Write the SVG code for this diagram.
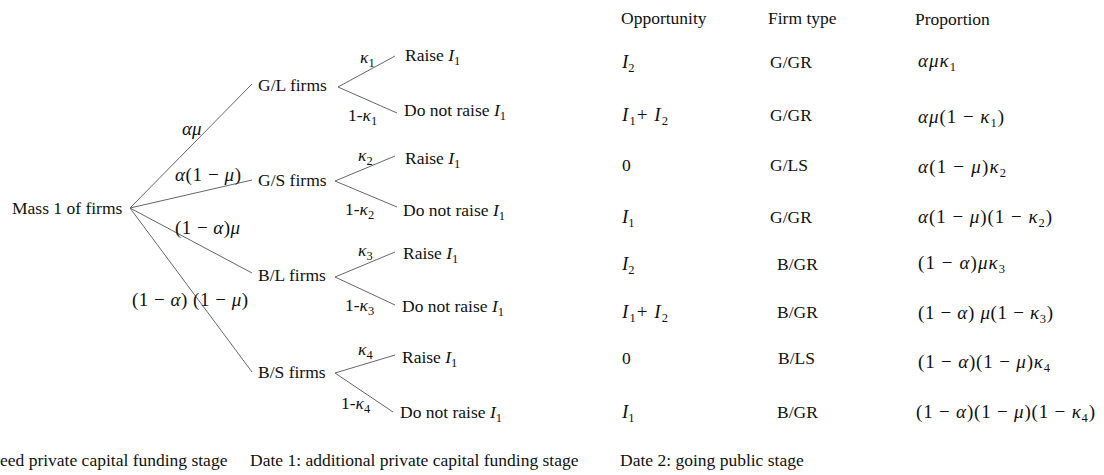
<svg xmlns="http://www.w3.org/2000/svg" width="1104" height="475" viewBox="0 0 1104 475">
<style>
text{font-family:"Liberation Serif","Times New Roman",serif;fill:#111;}
.t{font-size:17.5px;}
.m{font-size:19px;}
.k{font-size:17.5px;}
.i{font-style:italic;}
.s{font-size:12.5px;font-style:normal;}
.c line{stroke:#666;stroke-width:1;}
</style>
<rect width="1104" height="475" fill="#fff"/>
<g id="connectors" class="c">
<line x1="130" y1="208" x2="252" y2="84"/>
<line x1="130" y1="208" x2="252" y2="180"/>
<line x1="130" y1="208" x2="252" y2="273"/>
<line x1="130" y1="208" x2="252" y2="372"/>
<line x1="338" y1="87" x2="395" y2="56"/>
<line x1="338" y1="87" x2="397" y2="113"/>
<line x1="335" y1="181" x2="395" y2="156"/>
<line x1="335" y1="181" x2="397" y2="207"/>
<line x1="335" y1="277" x2="395" y2="252"/>
<line x1="335" y1="277" x2="395" y2="305"/>
<line x1="335" y1="373" x2="395" y2="355"/>
<line x1="335" y1="373" x2="393" y2="412"/>
</g>
<g id="edge-labels">
<text class="m i" x="182" y="135">αμ</text>
<text class="m" x="175" y="181" textLength="66"><tspan class="i">α</tspan>(1 − <tspan class="i">μ</tspan>)</text>
<text class="m" x="175" y="234" textLength="65">(1 − <tspan class="i">α</tspan>)<tspan class="i">μ</tspan></text>
<text class="m" x="132" y="306" textLength="116">(1 − <tspan class="i">α</tspan>) (1 − <tspan class="i">μ</tspan>)</text>
<text class="k" x="360" y="63"><tspan class="i">κ</tspan><tspan class="s" dy="4">1</tspan></text>
<text class="k" x="348" y="121">1-<tspan class="i">κ</tspan><tspan class="s" dy="4">1</tspan></text>
<text class="k" x="358" y="161"><tspan class="i">κ</tspan><tspan class="s" dy="4">2</tspan></text>
<text class="k" x="345" y="215">1-<tspan class="i">κ</tspan><tspan class="s" dy="4">2</tspan></text>
<text class="k" x="358" y="256"><tspan class="i">κ</tspan><tspan class="s" dy="4">3</tspan></text>
<text class="k" x="345" y="311">1-<tspan class="i">κ</tspan><tspan class="s" dy="4">3</tspan></text>
<text class="k" x="358" y="355"><tspan class="i">κ</tspan><tspan class="s" dy="4">4</tspan></text>
<text class="k" x="341" y="409">1-<tspan class="i">κ</tspan><tspan class="s" dy="4">4</tspan></text>
</g>
<g id="root"><text class="t" x="12" y="214">Mass 1 of firms</text></g>
<g id="node-GL"><text class="t" x="258" y="91">G/L firms</text></g>
<g id="node-GS"><text class="t" x="258" y="186">G/S firms</text></g>
<g id="node-BL"><text class="t" x="258" y="281">B/L firms</text></g>
<g id="node-BS"><text class="t" x="258" y="378">B/S firms</text></g>
<g id="leaf-GL-raise"><text class="t" x="405" y="61">Raise <tspan class="i">I</tspan><tspan class="s" dy="4">1</tspan></text></g>
<g id="leaf-GL-not"><text class="t" x="404" y="116">Do not raise <tspan class="i">I</tspan><tspan class="s" dy="4">1</tspan></text></g>
<g id="leaf-GS-raise"><text class="t" x="405" y="164">Raise <tspan class="i">I</tspan><tspan class="s" dy="4">1</tspan></text></g>
<g id="leaf-GS-not"><text class="t" x="403" y="216">Do not raise <tspan class="i">I</tspan><tspan class="s" dy="4">1</tspan></text></g>
<g id="leaf-BL-raise"><text class="t" x="403" y="259">Raise <tspan class="i">I</tspan><tspan class="s" dy="4">1</tspan></text></g>
<g id="leaf-BL-not"><text class="t" x="402" y="312">Do not raise <tspan class="i">I</tspan><tspan class="s" dy="4">1</tspan></text></g>
<g id="leaf-BS-raise"><text class="t" x="402" y="363">Raise <tspan class="i">I</tspan><tspan class="s" dy="4">1</tspan></text></g>
<g id="leaf-BS-not"><text class="t" x="400" y="418">Do not raise <tspan class="i">I</tspan><tspan class="s" dy="4">1</tspan></text></g>
<g id="table">
<text class="t" x="621" y="24">Opportunity</text>
<text class="t" x="768" y="24">Firm type</text>
<text class="t" x="915" y="25">Proportion</text>
<text class="m" x="622" y="68"><tspan class="i">I</tspan><tspan class="s" dy="4">2</tspan></text>
<text class="m" x="622" y="121" textLength="46"><tspan class="i">I</tspan><tspan class="s" dy="4">1</tspan><tspan dy="-4">+ </tspan><tspan class="i">I</tspan><tspan class="s" dy="4">2</tspan></text>
<text class="t" x="622" y="171">0</text>
<text class="m" x="622" y="223"><tspan class="i">I</tspan><tspan class="s" dy="4">1</tspan></text>
<text class="m" x="622" y="270"><tspan class="i">I</tspan><tspan class="s" dy="4">2</tspan></text>
<text class="m" x="622" y="318" textLength="46"><tspan class="i">I</tspan><tspan class="s" dy="4">1</tspan><tspan dy="-4">+ </tspan><tspan class="i">I</tspan><tspan class="s" dy="4">2</tspan></text>
<text class="t" x="622" y="364">0</text>
<text class="m" x="622" y="418"><tspan class="i">I</tspan><tspan class="s" dy="4">1</tspan></text>
<text class="t" x="770" y="68">G/GR</text>
<text class="t" x="770" y="121">G/GR</text>
<text class="t" x="770" y="171">G/LS</text>
<text class="t" x="770" y="223">G/GR</text>
<text class="t" x="777" y="270">B/GR</text>
<text class="t" x="777" y="318">B/GR</text>
<text class="t" x="778" y="364">B/LS</text>
<text class="t" x="777" y="418">B/GR</text>
<text class="m" x="918" y="67" textLength="38"><tspan class="i">αμκ</tspan><tspan class="s" dy="4">1</tspan></text>
<text class="m" x="918" y="123" textLength="86"><tspan class="i">αμ</tspan>(1 − <tspan class="i">κ</tspan><tspan class="s" dy="4">1</tspan><tspan dy="-4">)</tspan></text>
<text class="m" x="918" y="173" textLength="88"><tspan class="i">α</tspan>(1 − <tspan class="i">μ</tspan>)<tspan class="i">κ</tspan><tspan class="s" dy="4">2</tspan></text>
<text class="m" x="918" y="223" textLength="134"><tspan class="i">α</tspan>(1 − <tspan class="i">μ</tspan>)(1 − <tspan class="i">κ</tspan><tspan class="s" dy="4">2</tspan><tspan dy="-4">)</tspan></text>
<text class="m" x="918" y="269" textLength="87">(1 − <tspan class="i">α</tspan>)<tspan class="i">μκ</tspan><tspan class="s" dy="4">3</tspan></text>
<text class="m" x="918" y="319" textLength="135">(1 − <tspan class="i">α</tspan>) <tspan class="i">μ</tspan>(1 − <tspan class="i">κ</tspan><tspan class="s" dy="4">3</tspan><tspan dy="-4">)</tspan></text>
<text class="m" x="918" y="368" textLength="132">(1 − <tspan class="i">α</tspan>)(1 − <tspan class="i">μ</tspan>)<tspan class="i">κ</tspan><tspan class="s" dy="4">4</tspan></text>
<text class="m" x="916" y="418" textLength="179">(1 − <tspan class="i">α</tspan>)(1 − <tspan class="i">μ</tspan>)(1 − <tspan class="i">κ</tspan><tspan class="s" dy="4">4</tspan><tspan dy="-4">)</tspan></text>
</g>
<g id="stages">
<text class="t" x="0" y="466">eed private capital funding stage</text>
<text class="t" x="250" y="466">Date 1: additional private capital funding stage</text>
<text class="t" x="620" y="466">Date 2: going public stage</text>
</g>
</svg>
